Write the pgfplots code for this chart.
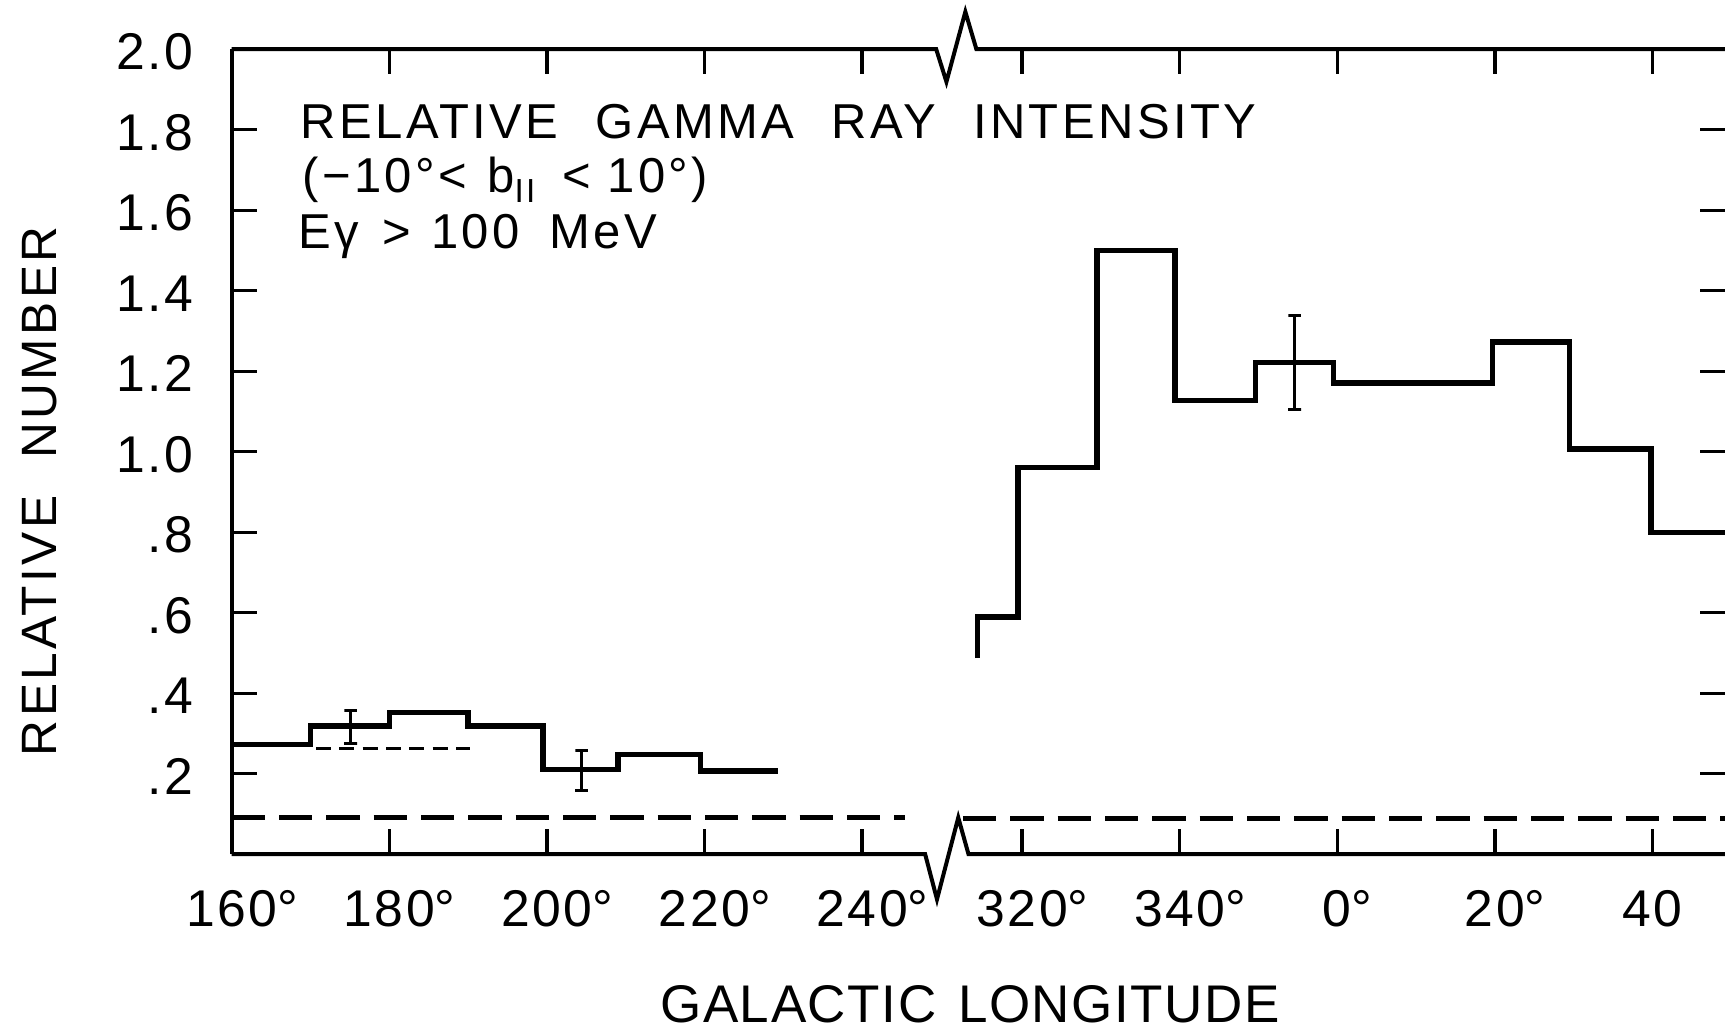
\documentclass[border=0pt]{standalone}
\usepackage{pgfplots}
\pgfplotsset{compat=1.18}
\usepackage{pgfplotstable}
\usepackage{fontspec}
\setmainfont{Liberation Sans}
\newfontfamily\tickfont{Liberation Sans}[LetterSpace=5]
\newfontfamily\titlefont{Liberation Sans}[LetterSpace=7]
\newfontfamily\labfont{Liberation Sans}[LetterSpace=3]

% left part of the histogram (galactic longitude, relative number)
\pgfplotstableread{
lon val
160 0.273
170 0.319
180 0.352
190 0.319
199.5 0.211
209 0.248
219.5 0.207
229.3 0.207
}\leftdata

% right part (longitude, 0 deg written as 360); shifted by the axis break
\pgfplotstableread{
lon val
314.3 0.487
314.3 0.589
319.5 0.960
329.5 1.500
339.4 1.127
349.6 1.221
359.5 1.171
379.7 1.273
389.5 1.007
399.8 0.800
409.2 0.800
}\rightdata

\begin{document}
\begin{tikzpicture}
\begin{axis}[
  name=ax, at={(0,0)}, anchor=south west,
  x=2.364pt, y=120.75pt,
  xmin=160, xmax=349.5, ymin=0, ymax=2,
  clip=false,
  axis line style={draw=none},
  tick align=inside, xtick pos=both, ytick pos=both,
  major tick length=7.5pt,
  tick style={line width=1pt, black},
  xtick={160,180,200,220,240,260.3,280.3,300.3,320.3,340.3},
  xticklabels={160\rlap{°},180\rlap{°},200\rlap{°},220\rlap{°},240\rlap{°},320\rlap{°},340\rlap{°},0\rlap{°},20\rlap{°},40},
  ytick={0.2,0.4,0.6,0.8,1.0,1.2,1.4,1.6,1.8,2.0},
  yticklabels={.2,.4,.6,.8,1.0,1.2,1.4,1.6,1.8,2.0},
  xticklabel style={font=\tickfont\fontsize{15.5}{18}\selectfont, anchor=north, inner sep=0pt, yshift=-10.5pt, text height=11.1pt, text depth=0pt},
  yticklabel style={font=\tickfont\fontsize{15.5}{18}\selectfont, anchor=east, inner sep=0pt, xshift=-11.4pt, yshift=-0.6pt, text height=11.1pt, text depth=0pt},
]
% axis frame with the break marks
\addplot[line width=1.2pt, black, mark=none] coordinates {(160,0) (160,2)};
\addplot[line width=1.2pt, black, mark=none] coordinates {(160,2) (249.4,2) (250.7,1.919) (253.1,2.093) (254.5,2) (349.5,2)};
\addplot[line width=1.2pt, black, mark=none] coordinates {(160,0) (248.0,0) (249.5,-0.112) (252.2,0.091) (253.5,0) (349.5,0)};

% histograms
\addplot[const plot, line width=1.6pt, black, mark=none] table[x=lon, y=val] {\leftdata};
\addplot[const plot, line width=1.6pt, black, mark=none] table[x expr=\thisrow{lon}-59.7, y=val] {\rightdata};

% background level (long dashes)
\addplot[line width=1.5pt, black, mark=none, dash pattern=on 10pt off 4.2pt] coordinates {(160,0.091) (245.5,0.091)};
\addplot[line width=1.5pt, black, mark=none, dash pattern=on 10pt off 4.2pt] coordinates {(252.8,0.090) (349.5,0.090)};

% short thin dashed level
\addplot[line width=0.9pt, black, mark=none, dash pattern=on 4.5pt off 2.5pt] coordinates {(170.7,0.263) (190.3,0.263)};

% error bars (I-shaped)
\addplot[line width=0.9pt, black, mark=none] coordinates {(174.3,0.274) (175.9,0.274) (175.1,0.274) (175.1,0.356) (174.3,0.356) (175.9,0.356)};
\addplot[line width=0.9pt, black, mark=none] coordinates {(203.6,0.158) (205.2,0.158) (204.4,0.158) (204.4,0.258) (203.6,0.258) (205.2,0.258)};
\addplot[line width=0.9pt, black, mark=none] coordinates {(294.1,1.106) (295.7,1.106) (294.9,1.106) (294.9,1.338) (294.1,1.338) (295.7,1.338)};

% texts
\node[anchor=base west, inner sep=0pt, font=\titlefont\fontsize{14.7}{17}\selectfont] at (axis cs:168.7,1.779)
  {RELATIVE\hspace{11.2pt}GAMMA\hspace{11.2pt}RAY\hspace{11.2pt}INTENSITY};
\node[anchor=base west, inner sep=0pt, font=\titlefont\fontsize{14.7}{17}\selectfont] at (axis cs:168.9,1.643)
  {(−10°<\hspace{6pt}b\raisebox{-3pt}{\fontsize{10}{11}\selectfont II}\hspace{8pt}<\hspace{5pt}10°)};
\node[anchor=base west, inner sep=0pt, font=\titlefont\fontsize{14.7}{17}\selectfont] at (axis cs:168.4,1.506)
  {Eγ\hspace{7pt}>\hspace{6pt}100\hspace{9pt}MeV};
\node[rotate=90, inner sep=0pt, font=\titlefont\fontsize{14.9}{17}\selectfont] at (axis cs:135.6,0.902)
  {RELATIVE\hspace{11pt}NUMBER};
\node[inner sep=0pt, font=\labfont\fontsize{15.9}{18}\selectfont] at (axis cs:253.7,-0.372)
  {GALACTIC\hspace{6.5pt}LONGITUDE};
\end{axis}
\path (ax.south west) ++(-69.51pt,-52.74pt) coordinate (bl);
\path (ax.north east) ++(0pt,14.76pt) coordinate (tr);
\pgfresetboundingbox
\path[use as bounding box] (bl) rectangle (tr);
\end{tikzpicture}
\end{document}
